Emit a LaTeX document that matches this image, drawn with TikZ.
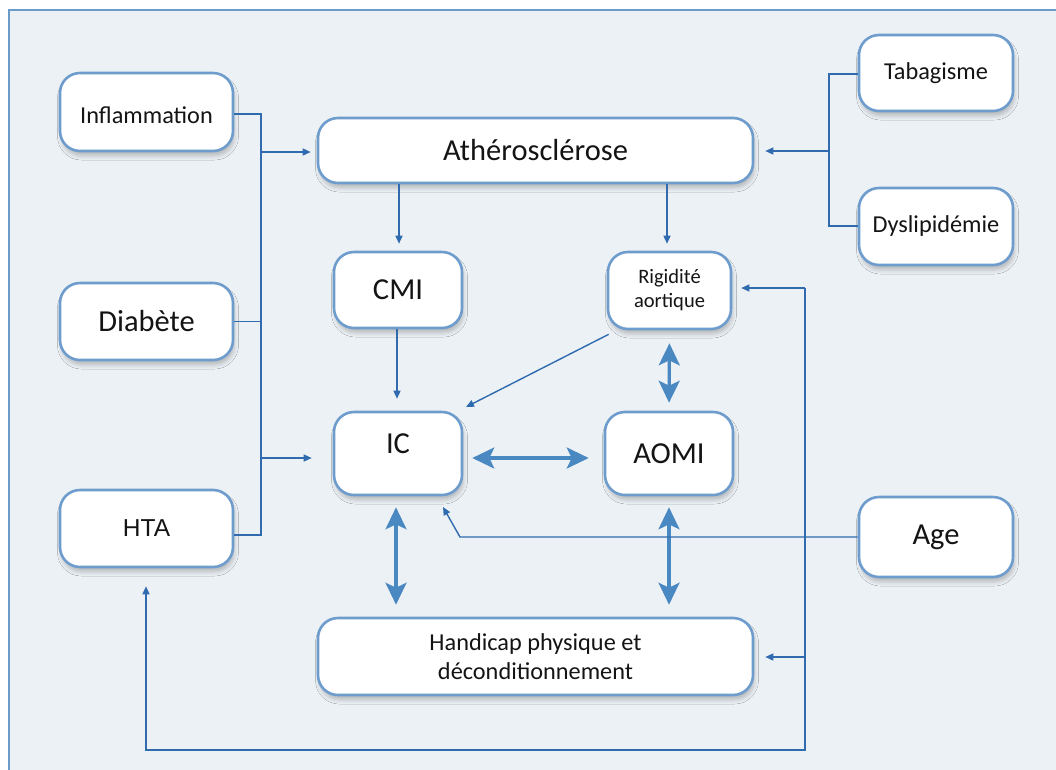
\documentclass[tikz,border=0pt]{standalone}
\usepackage{fontspec}
\setmainfont{Carlito}
\newfontfamily\arialfont{Liberation Sans}
\usetikzlibrary{arrows.meta,shadows.blur}
\definecolor{bgcol}{HTML}{ECF1F5}
\definecolor{framecol}{HTML}{6A9BCB}
\definecolor{boxcol}{HTML}{6D9CCD}
\definecolor{linecol}{HTML}{2F6BAE}
\definecolor{thickcol}{HTML}{4A88C2}
\definecolor{txtcol}{HTML}{141414}
\tikzset{
  box/.style={draw=boxcol, line width=2.6pt, fill=white, rounded corners=20pt,
    inner sep=0pt, align=center, text=txtcol,
    blur shadow={shadow xshift=1.5pt, shadow yshift=-5pt, shadow blur radius=4pt, shadow opacity=22}},
  bigtxt/.style={font=\fontsize{30.5}{36}\selectfont},
  smalltxt/.style={font=\fontsize{24.3}{29}\selectfont},
  tinytxt/.style={font=\fontsize{20.5}{24}\selectfont},
  conn/.style={draw=linecol, line width=1.4pt},
  connarrow/.style={conn, -{Triangle[length=8pt,width=7pt]}},
  dbl/.style={draw=thickcol, line width=3.2pt,
    {Stealth[length=22pt,width=21pt,inset=5pt]}-{Stealth[length=22pt,width=21pt,inset=5pt]}}
}
\begin{document}
\begin{tikzpicture}[x=1pt,y=-1pt]
\useasboundingbox (0,0) rectangle (1056,769);
\fill[white] (0,0) rectangle (1056,769);
\draw[framecol, line width=2pt, fill=bgcol] (9,10) rectangle (1070,790);

% nodes
\node[box,smalltxt, minimum width=173pt, minimum height=78pt, text height=23pt, text depth=0pt] (infl) at (146.5,112) {Inflammation};
\node[box,bigtxt, minimum width=173pt, minimum height=77pt] (diab) at (146.5,321.5) {Diabète};
\node[box,font=\arialfont\fontsize{24.5}{29}\selectfont, minimum width=173pt, minimum height=77pt] (hta) at (146.5,528.5) {HTA};
\node[box,bigtxt, minimum width=435pt, minimum height=65pt] (ath) at (535.5,150.5) {Athérosclérose};
\node[box,smalltxt, minimum width=154pt, minimum height=76pt] (tab) at (936,73) {Tabagisme};
\node[box,smalltxt, minimum width=154pt, minimum height=77pt] (dys) at (936,226.5) {Dyslipidémie};
\node[box,bigtxt, minimum width=128pt, minimum height=76pt] (cmi) at (398,290) {CMI};
\node[box,tinytxt, minimum width=123pt, minimum height=77pt] (rig) at (669.5,290.5) {Rigidité\\aortique};
\node[box,bigtxt, minimum width=128pt, minimum height=83pt, text depth=20pt] (ic) at (398,453.5) {IC};
\node[box,bigtxt, minimum width=128pt, minimum height=83pt] (aomi) at (669,453.5) {AOMI};
\node[box,bigtxt, minimum width=154pt, minimum height=80pt] (age) at (936,537) {Age};
\node[box,smalltxt, minimum width=435pt, minimum height=77pt] (hand) at (535.5,656.5) {Handicap physique et\\déconditionnement};

% left bus
\coordinate (lbA) at (261,152);
\coordinate (lbB) at (261,458);
\draw[conn] ([yshift=-2pt]infl.east) -| (261,535) -- ([yshift=-6.5pt]hta.east);
\draw[conn] (diab.east) -- (diab.east -| lbA);
\draw[connarrow, shorten >=6pt] (lbA) -- (ath.west |- lbA);
\draw[connarrow, shorten >=21pt] (lbB) -- (ic.west |- lbB);

% right bus (Tabagisme / Dyslipidemie)
\coordinate (rbA) at (829,151);
\draw[conn] ([yshift=-1pt]tab.west) -| (829,226) -- ([yshift=0.5pt]dys.west);
\draw[connarrow, shorten >=11pt] (rbA) -- (ath.east |- rbA);

% atherosclerose down
\draw[connarrow, shorten >=7pt] (ath.south -| 399,0) -- (cmi.north -| 399,0);
\draw[connarrow, shorten >=7pt] (ath.south -| 667,0) -- (rig.north -| 667,0);
\draw[connarrow, shorten >=12pt] (cmi.south -| 397,0) -- (ic.north -| 397,0);
\draw[connarrow] ([shift={(2pt,-4pt)}]rig.south west) -- (466,407);

% thick double arrows
\draw[dbl, shorten <=9pt, shorten >=15pt] (ic.east |- 0,458) -- (aomi.west |- 0,458);
\draw[dbl, shorten <=13pt, shorten >=8pt] (rig.south) -- (aomi.north);
\draw[dbl, shorten <=11pt, shorten >=12pt] (ic.south -| 396,0) -- (hand.north -| 396,0);
\draw[dbl, shorten <=11pt, shorten >=12pt] (aomi.south) -- (hand.north -| aomi.south);

% Age
\coordinate (ageK) at (460,537);
\draw[connarrow] (age.west) -- (ageK) -- (443,507);

% right vertical bus
\coordinate (vTop) at (805,288);
\coordinate (vHand) at (805,657);
\coordinate (vBot) at (805,750);
\coordinate (hBot) at (146,750);
\draw[connarrow, shorten >=9pt] (vTop) -- (rig.east |- vTop);
\draw[connarrow, shorten >=11pt] (vHand) -- (hand.east |- vHand);
\draw[connarrow, shorten >=18pt] (vTop) -- (vBot) -- (hBot) -- (hta.south -| hBot);
\end{tikzpicture}
\end{document}
